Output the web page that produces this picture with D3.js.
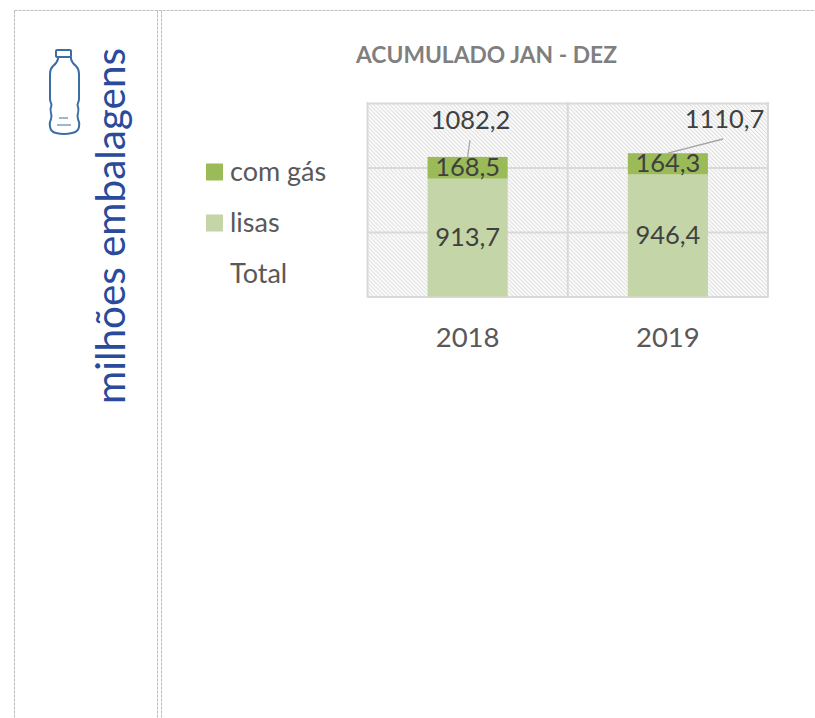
<!DOCTYPE html>
<html>
<head>
<meta charset="utf-8">
<script src="https://cdn.jsdelivr.net/npm/d3@7"></script>
<style>
  html, body { margin: 0; padding: 0; background: #fff; overflow: hidden; }
  text { font-family: Lato, "Open Sans", sans-serif; }
</style>
</head>
<body>
<svg id="chart" width="815" height="718"></svg>
<script>
"use strict";

// Data
var years = ["2018", "2019"];
var lisas = [913.7, 946.4];
var comGas = [168.5, 164.3];
var totals = [1082.2, 1110.7];
var yTicks = [0, 500, 1000, 1500];
var legendNames = ["com gás", "lisas", "Total"];

var green = "#9bbb59";
var lightGreen = "#c4d5a8";
var textColour = "#404040";
var gridColour = "#d9d9d9";

var fmt = function(v) { return v.toFixed(1).replace(".", ","); };

var svg = d3.select("#chart");
var plot = { left: 367.5, right: 768, top: 103, bottom: 296.5 };

// Hatched plot background
var hatch = svg.append("defs").append("pattern")
  .attr("id", "hatch")
  .attr("width", 2.83)
  .attr("height", 2.83)
  .attr("patternUnits", "userSpaceOnUse")
  .attr("patternTransform", "rotate(-45 0 0)");
hatch.append("rect").attr("width", 2.83).attr("height", 2.83).attr("fill", "#fff");
hatch.append("rect").attr("width", 1.2).attr("height", 2.83).attr("fill", "#e0e0e0");

// Dashed page frames
var frames = [[14, 10, 815, 10], [14, 10, 14, 717], [157, 10, 157, 717], [161, 10, 161, 717]];
svg.selectAll(".frame").data(frames).enter().append("line")
  .attr("class", "frame")
  .attr("x1", function(d) { return d[0] + 0.5; })
  .attr("y1", function(d) { return d[1] + 0.5; })
  .attr("x2", function(d) { return d[2] + 0.5; })
  .attr("y2", function(d) { return d[3] + 0.5; })
  .attr("stroke", "#bdbdbd")
  .attr("stroke-dasharray", "3 1");

// Scales
var x = d3.scaleBand().domain(years).range([plot.left, plot.right]).paddingInner(0.6).paddingOuter(0.3);
var y = d3.scaleLinear().domain([0, 1500]).range([plot.bottom, plot.top]);

svg.append("rect")
  .attr("x", plot.left)
  .attr("y", plot.top)
  .attr("width", plot.right - plot.left)
  .attr("height", plot.bottom - plot.top)
  .attr("fill", "url(#hatch)");

// Gridlines
var yAxis = svg.append("g")
  .attr("transform", "translate(" + plot.left + ",0)")
  .call(d3.axisLeft(y).tickValues(yTicks).tickSize(plot.left - plot.right).tickFormat(""));
yAxis.select(".domain").remove();
yAxis.selectAll("line").attr("stroke", gridColour).attr("stroke-width", 2);

// Vertical frame and category dividers
var xEdges = [plot.left, (plot.left + plot.right) / 2, plot.right];
svg.selectAll(".vgrid").data(xEdges).enter().append("line")
  .attr("class", "vgrid")
  .attr("x1", function(d) { return d; })
  .attr("x2", function(d) { return d; })
  .attr("y1", plot.top - 1)
  .attr("y2", plot.bottom + 1)
  .attr("stroke", gridColour)
  .attr("stroke-width", 2);

// Bars
svg.selectAll(".lisas").data(years).enter().append("rect")
  .attr("class", "lisas")
  .attr("x", function(d) { return x(d); })
  .attr("width", x.bandwidth())
  .attr("y", function(d, i) { return y(lisas[i]); })
  .attr("height", function(d, i) { return y(0) - y(lisas[i]); })
  .attr("fill", lightGreen);

svg.selectAll(".comgas").data(years).enter().append("rect")
  .attr("class", "comgas")
  .attr("x", function(d) { return x(d); })
  .attr("width", x.bandwidth())
  .attr("y", function(d, i) { return y(lisas[i] + comGas[i]); })
  .attr("height", function(d, i) { return y(lisas[i]) - y(lisas[i] + comGas[i]); })
  .attr("fill", green);

// Leader lines and labels
var totalLabelX = [470.5, 724.5];
var totalLabelY = [129, 128];
var leaderEnd = [[470, 140], [723, 139]];

svg.selectAll(".leader").data(years).enter().append("line")
  .attr("class", "leader")
  .attr("x1", function(d) { return x(d) + x.bandwidth() / 2; })
  .attr("y1", function(d, i) { return y(totals[i]); })
  .attr("x2", function(d, i) { return leaderEnd[i][0]; })
  .attr("y2", function(d, i) { return leaderEnd[i][1]; })
  .attr("stroke", "#a6a6a6")
  .attr("stroke-width", 1.3);

function barLabels(values, base) {
  svg.selectAll(null).data(years).enter().append("text")
    .attr("x", function(d) { return x(d) + x.bandwidth() / 2; })
    .attr("y", function(d, i) { return y(base[i] + values[i] / 2) + 8.5; })
    .attr("text-anchor", "middle")
    .attr("font-size", 25.5)
    .attr("fill", textColour)
    .text(function(d, i) { return fmt(values[i]); });
}
barLabels(lisas, [0, 0]);
barLabels(comGas, lisas);

svg.selectAll(".total").data(years).enter().append("text")
  .attr("class", "total")
  .attr("x", function(d, i) { return totalLabelX[i]; })
  .attr("y", function(d, i) { return totalLabelY[i]; })
  .attr("text-anchor", "middle")
  .attr("font-size", 25.5)
  .attr("fill", textColour)
  .text(function(d, i) { return fmt(totals[i]); });

// Category axis
var xAxis = svg.append("g")
  .attr("transform", "translate(0," + plot.bottom + ")")
  .call(d3.axisBottom(x).tickSize(0).tickPadding(31));
xAxis.select(".domain").remove();
xAxis.selectAll("text")
  .attr("font-size", 27.5)
  .attr("font-family", "Lato")
  .attr("fill", "#595959");

// Title
svg.append("text")
  .attr("x", 486.5)
  .attr("y", 63)
  .attr("text-anchor", "middle")
  .attr("font-size", 22.8)
  .attr("font-weight", "bold")
  .attr("fill", "#7f7f7f")
  .text("ACUMULADO JAN - DEZ");

// Legend
var legendY = d3.scalePoint().domain(legendNames).range([172, 274]);
var legendColours = [green, lightGreen, "none"];
svg.selectAll(".swatch").data(legendNames).enter().append("rect")
  .attr("class", "swatch")
  .attr("x", 206)
  .attr("y", function(d) { return legendY(d) - 8.5; })
  .attr("width", 17)
  .attr("height", 17)
  .attr("fill", function(d, i) { return legendColours[i]; });
svg.selectAll(".legend").data(legendNames).enter().append("text")
  .attr("class", "legend")
  .attr("x", 230)
  .attr("y", function(d) { return legendY(d) + 9; })
  .attr("font-size", 27)
  .attr("fill", "#595959")
  .text(function(d) { return d; });

// Side title
svg.append("text")
  .attr("transform", "translate(125,404) rotate(-90)")
  .attr("font-size", 40.4)
  .attr("fill", "#2a4a9b")
  .text("milhões embalagens");

// Bottle icon
var bottle = svg.append("g")
  .attr("fill", "none")
  .attr("stroke", "#3a6ea5")
  .attr("stroke-width", 2)
  .attr("stroke-linejoin", "round");
bottle.append("path")
  .attr("d", "M57 50 h13 q1 0 1 1 v5 q0 1 -1 1 h-13 q-1 0 -1 -1 v-5 q0 -1 1 -1 z");
bottle.append("path")
  .attr("d", "M58 57 v2 q-1 4 -5 7 q-3 3 -3 8 v25 q0 2 1 4 q1 2 0 4 q-1 2 0 6 q1 3 0 6 q-2 4 -1 8 q1 5 6 6 q8 2 16 0 q6 -1 7 -6 q1 -4 -1 -8 q-1 -3 0 -6 q1 -4 0 -6 q-1 -2 0 -4 q1 -2 1 -4 v-25 q0 -5 -3 -8 q-4 -3 -5 -7 v-2");
bottle.append("path").attr("d", "M59 118 h9 M57 125 h14").attr("stroke-width", 1);
</script>
</body>
</html>
